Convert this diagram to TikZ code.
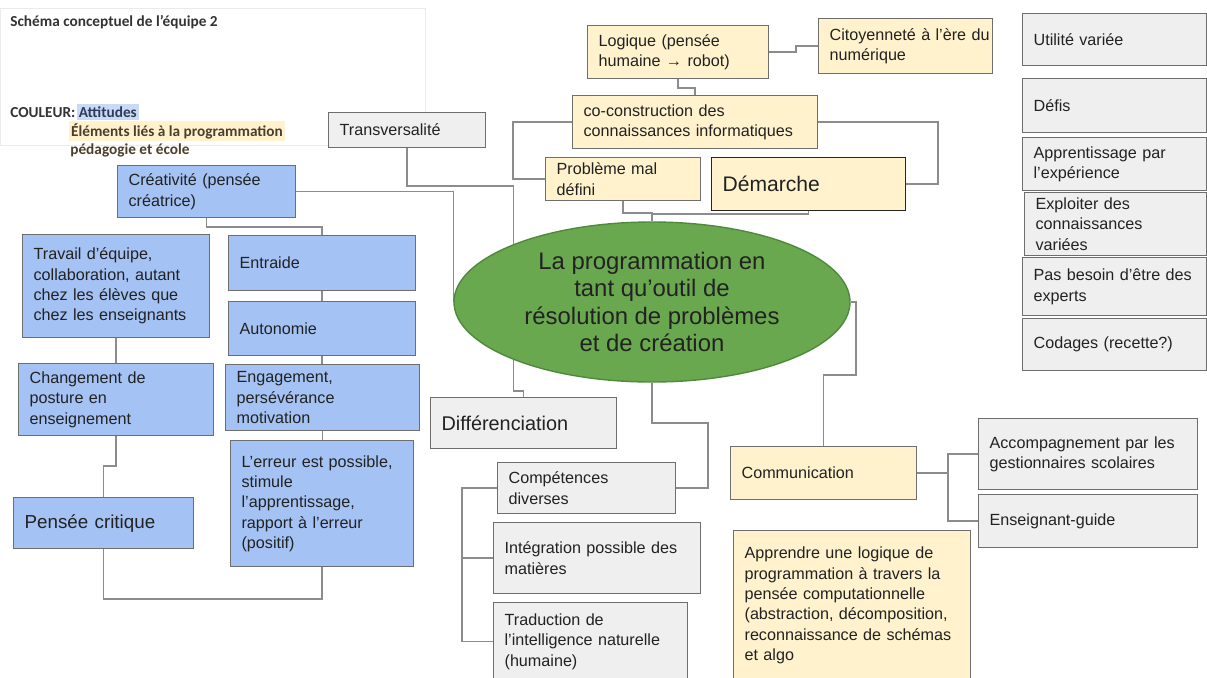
\documentclass[tikz,border=0pt]{standalone}
\usepackage{fontspec}
\setmainfont{Liberation Sans}
\newfontfamily\calibri{Carlito}
\usepackage{xcolor}
\usetikzlibrary{calc}
\usetikzlibrary{shapes.geometric, backgrounds}

\definecolor{bleuF}{HTML}{A4C2F4}
\definecolor{jauneF}{HTML}{FFF2CC}
\definecolor{grisF}{HTML}{EFEFEF}
\definecolor{vertF}{HTML}{6AA84F}
\definecolor{vertB}{HTML}{4F8A3C}
\definecolor{bord}{HTML}{6E6E6E}
\definecolor{trait}{HTML}{8C8C8C}
\definecolor{encre}{HTML}{222222}
\definecolor{hlbleu}{HTML}{C9DAF8}
\definecolor{bleuT}{HTML}{2E3B55}
\definecolor{brun}{HTML}{4A3F2C}

\newcommand{\policeboite}{\fontsize{9.2}{11.6}\selectfont}
\newcommand{\marge}{\leftskip=0.22cm\rightskip=0pt plus 1fil\relax}

\begin{document}
\begin{tikzpicture}[x=0.02cm, y=-0.02cm,
    boite/.style 2 args={draw=bord, line width=0.7pt, anchor=north west,
        inner xsep=0pt, inner ysep=0pt, text width=#1*0.02cm,
        minimum height=#2*0.02cm, text=encre, font=\policeboite,
        execute at begin node=\marge},
    bleu/.style 2 args={boite={#1}{#2}, fill=bleuF},
    jaune/.style 2 args={boite={#1}{#2}, fill=jauneF},
    gris/.style 2 args={boite={#1}{#2}, fill=grisF},
    lien/.style={draw=trait, line width=0.9pt},
    legtxt/.style={inner sep=0pt, anchor=base west,
        font=\calibri\bfseries\fontsize{8.7}{10}\selectfont}]
    \useasboundingbox (0,0) rectangle (1207,677);

    % legende
    \node[draw=black!8, fill=white, anchor=north west, inner sep=0pt,
        minimum width=425*0.02cm, minimum height=137*0.02cm] (cadre) at (0,8) {};
    \node[legtxt, text=black!80] (titre) at (10,26) {Schéma conceptuel de l’équipe 2};
    \node[legtxt, text=black!80] (couleur) at (10,117) {COULEUR:};
    \node[legtxt, fill=hlbleu, text=bleuT, inner xsep=1pt, inner ysep=1.5pt]
        (attitudes) at ($(couleur.base east)+(1,0)$) {Attitudes};
    \node[legtxt, fill=jauneF, text=brun, inner xsep=1pt, inner ysep=1.5pt]
        (elements) at (69,136) {Éléments liés à la programmation};
    \node[legtxt, text=brun] (pedago) at (70,154) {pédagogie et école};

    % attitudes (bleu)
    \node[gris={157}{35}] (transv) at (328,112) {Transversalité};
    \node[bleu={178}{52}] (creat) at (117,165) {Créativité (pensée\\créatrice)};
    \node[bleu={187}{103}] (travail) at (22,234) {Travail d’équipe,\\collaboration, autant\\chez les élèves que\\chez les enseignants};
    \node[bleu={187}{55}] (entraide) at (228,235) {Entraide};
    \node[bleu={187}{54}] (autonomie) at (228,301) {Autonomie};
    \node[bleu={195}{72}] (posture) at (18,363) {Changement de\\posture en\\enseignement};
    \node[bleu={194}{66}] (engag) at (225,364) {Engagement,\\persévérance\\motivation};
    \node[bleu={183}{126}] (erreur) at (230,440) {L’erreur est possible,\\stimule\\l’apprentissage,\\rapport à l’erreur\\(positif)};
    \node[bleu={180}{51}, font=\fontsize{10.7}{13}\selectfont] (critique) at (13,497) {Pensée critique};

    % programmation (jaune)
    \node[jaune={181}{53}] (logique) at (587,25) {Logique (pensée\\humaine → robot)};
    \node[jaune={174}{55}] (citoy) at (818,18) {Citoyenneté à l’ère du\\numérique};
    \node[jaune={245}{53}] (cocons) at (572,95) {co-construction des\\connaissances informatiques};
    \node[jaune={155}{43}] (probleme) at (545,157) {Problème mal\\défini};
    \node[jaune={194}{53}, draw=black!85, font=\fontsize{12}{14}\selectfont] (demarche) at (711,157) {Démarche};

    % centre
    \node[ellipse, draw=vertB, line width=0.8pt, fill=vertF, inner sep=0pt,
        minimum width=396*0.02cm, minimum height=160*0.02cm, align=center,
        text=encre, font=\fontsize{13.6}{15.7}\selectfont]
        (centre) at (652,302) {La programmation en\\tant qu’outil de\\résolution de problèmes\\et de création};

    % pedagogie et ecole (gris)
    \node[gris={186}{51}, font=\fontsize{11.3}{13}\selectfont] (diff) at (430,397) {Différenciation};
    \node[gris={178}{51}] (compet) at (497,462) {Compétences\\diverses};
    \node[gris={207}{71}] (integ) at (493,522) {Intégration possible des\\matières};
    \node[gris={194}{78}] (trad) at (493,602) {Traduction de\\l’intelligence naturelle\\(humaine)};
    \node[jaune={186}{53}] (commun) at (730,446) {Communication};
    \node[gris={219}{71}] (accomp) at (978,418) {Accompagnement par les\\gestionnaires scolaires};
    \node[gris={219}{53}] (guide) at (978,494) {Enseignant-guide};
    \node[jaune={237}{150}] (apprendre) at (733,530) {Apprendre une logique de\\programmation à travers la\\pensée computationnelle\\(abstraction, décomposition,\\reconnaissance de schémas\\et algo};

    % colonne de droite
    \node[gris={184}{52}] (utilite) at (1022,13) {Utilité variée};
    \node[gris={184}{54}] (defis) at (1022,78) {Défis};
    \node[gris={184}{53}] (apprexp) at (1022,137) {Apprentissage par\\l’expérience};
    \node[gris={182}{63}] (exploiter) at (1024,192) {Exploiter des\\connaissances\\variées};
    \node[gris={184}{58}] (besoin) at (1022,257) {Pas besoin d’être des\\experts};
    \node[gris={184}{52}] (codages) at (1022,318) {Codages (recette?)};

    \begin{pgfonlayer}{background}
        \fill[white] (0,0) rectangle (1207,677);
        % liens
        \draw[lien] (creat.south) -- ++(0,9) -| (entraide.north);
        \draw[lien] (entraide.south) -- (autonomie.north);
        \draw[lien] (autonomie.south) -- (autonomie.south |- engag.north);
        \draw[lien] (engag.south) -- (engag.south |- erreur.north);
        \draw[lien] (travail.south) -- (posture.north);
        \draw[lien] (posture.south) -- ++(0,30) -| (critique.north);
        \draw[lien] (critique.south) -- ++(0,50) -| (erreur.south);
        \draw[lien] (creat.east) -| (centre.west);
        \draw[lien] (transv.south) -- ++(0,38) -| ($(diff.north)+(-10,-6)$) -| (diff.north);
        \draw[lien] (cocons.west) -- ++(-59,0) |- (probleme.west);
        \draw[lien] (cocons.east) -- ++(120,0) |- (demarche.east);
        \draw[lien] (logique.south) -- ++(0,9) -| (cocons.north);
        \draw[lien] (logique.east) -- ++(27,0) |- (citoy.west);
        \draw[lien] (probleme.south) -- ++(0,12) -| (centre.north);
        \draw[lien] (demarche.south) -- ++(0,3) -| (centre.north);
        \draw[lien] (centre.south) -- ++(0,40) -| ($(compet.east)+(32,0)$) -- (compet.east);
        \draw[lien] (centre.east) -- ++(5,0) -- ++(0,73) -| (commun.north);
        \draw[lien] (compet.west) -- ++(-35,0) coordinate (brD) |- (trad.west);
        \draw[lien] (integ.west) -- (integ.west -| brD);
        \draw[lien] (commun.east) -- ++(31,0) coordinate (brC);
        \draw[lien] (accomp.west) -| (brC) |- (guide.west);
    \end{pgfonlayer}
\end{tikzpicture}
\end{document}
